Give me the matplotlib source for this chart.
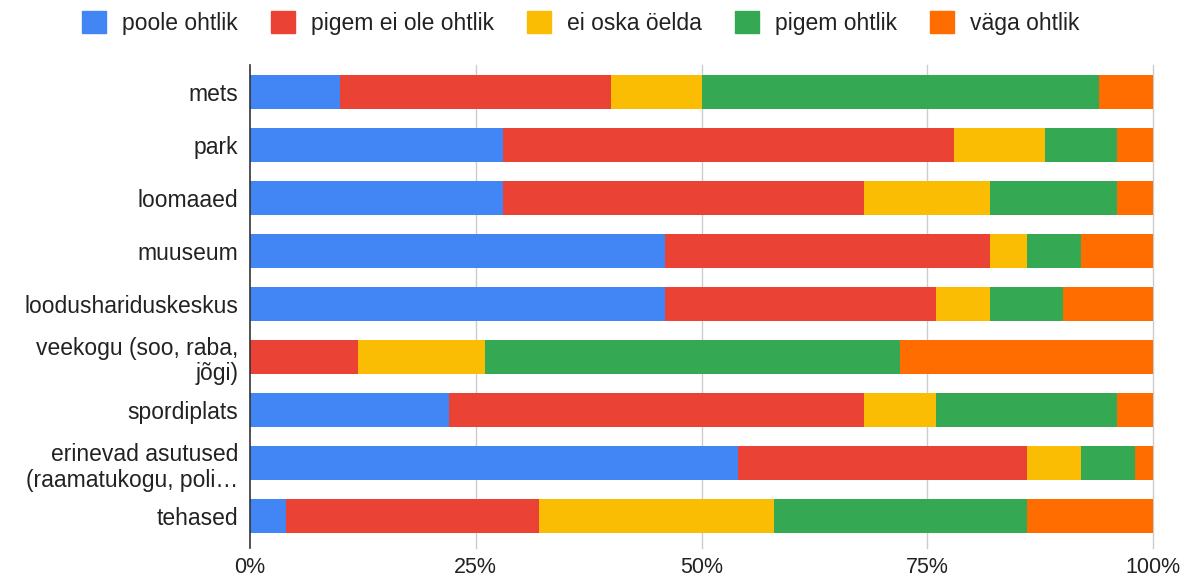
import matplotlib.pyplot as plt
import numpy as np
from matplotlib.patches import Patch

plt.rcParams['font.family'] = ['Liberation Sans', 'DejaVu Sans']

categories = ['mets', 'park', 'loomaaed', 'muuseum', 'loodushariduskeskus',
              'veekogu (soo, raba,\njõgi)', 'spordiplats',
              'erinevad asutused\n(raamatukogu, poli…', 'tehased']
series_names = ['poole ohtlik', 'pigem ei ole ohtlik', 'ei oska öelda',
                'pigem ohtlik', 'väga ohtlik']
poole = [10, 28, 28, 46, 46, 0, 22, 54, 4]
pigem_ei = [30, 50, 40, 36, 30, 12, 46, 32, 28]
ei_oska = [10, 10, 14, 4, 6, 14, 8, 6, 26]
pigem = [44, 8, 14, 6, 8, 46, 20, 6, 28]
vaga = [6, 4, 4, 8, 10, 28, 4, 2, 14]
colors = ['#4285F4', '#EA4335', '#FBBC04', '#34A853', '#FF6D01']
xticks = [0, 25, 50, 75, 100]

fs = 16.5
fig = plt.figure(figsize=(11.92, 5.82), dpi=100)
ax = fig.add_axes([250/1192, 1-543/582, (1153-250)/1192, (543-65)/582])

y = np.arange(len(categories))
left = np.zeros(len(categories))
for vals, c, name in zip([poole, pigem_ei, ei_oska, pigem, vaga], colors, series_names):
    vals = np.array(vals, dtype=float)
    ax.barh(y, vals, left=left, height=0.64, color=c, label=name, zorder=3)
    left += vals

ax.set_xlim(0, 100)
ax.set_ylim(len(categories) - 0.5, -0.5)
ax.set_yticks(y)
ax.set_yticklabels(categories, fontsize=fs, color='#222222', linespacing=1.15)
ax.set_xticks(xticks)
ax.set_xticklabels([f'{t}%' for t in xticks], fontsize=15.5, color='#222222')
ax.tick_params(axis='y', length=0, pad=8.5)
ax.tick_params(axis='x', length=0, pad=10)
for t in xticks[1:]:
    ax.axvline(t, color='#cccccc', lw=1, zorder=1, ymin=-0.01, clip_on=False)
ax.axvline(0, color='#333333', lw=1.2, zorder=4, ymin=-0.01, clip_on=False)
for s in ax.spines.values():
    s.set_visible(False)

handles = [Patch(facecolor=c, edgecolor=c) for c in colors]
fig.legend(handles, series_names, loc='upper center', bbox_to_anchor=(0.487, 1.016),
           ncol=5, frameon=False, fontsize=fs, handlelength=1.05, handleheight=1.05,
           columnspacing=1.44, handletextpad=0.7, labelcolor='#222222')

fig.savefig('out.png', dpi=100)
